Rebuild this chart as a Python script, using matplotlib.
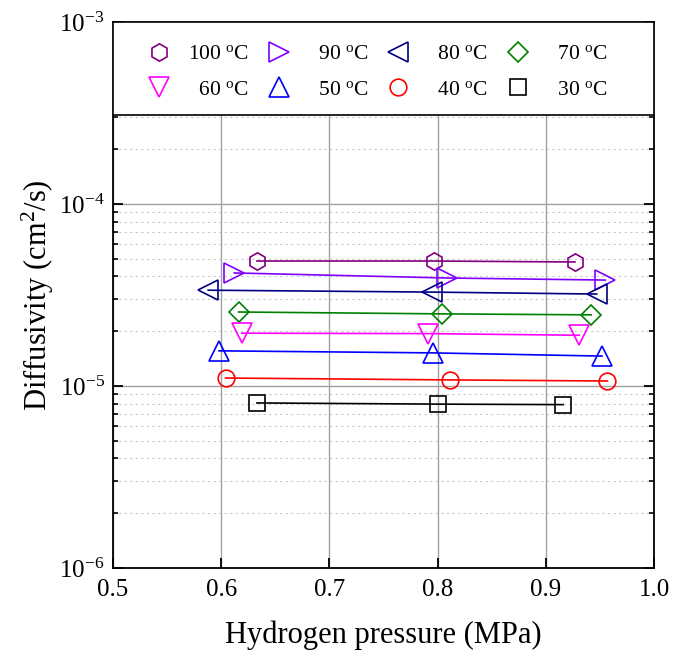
import numpy as np
import matplotlib
matplotlib.use("Agg")
import matplotlib.pyplot as plt
from matplotlib.lines import Line2D
from matplotlib.patches import Rectangle
from matplotlib.ticker import LogLocator, NullFormatter

plt.rcParams['font.family'] = ['Liberation Serif', 'DejaVu Serif']
plt.rcParams['mathtext.fontset'] = 'custom'
plt.rcParams['mathtext.rm'] = 'Liberation Serif'
plt.rcParams['mathtext.it'] = 'Liberation Serif:italic'

# diffusivity vs. pressure, one series per temperature
temps = [100, 90, 80, 70, 60, 50, 40, 30]
pressure = [
    [0.633, 0.797, 0.927],
    [0.612, 0.809, 0.955],
    [0.588, 0.795, 0.947],
    [0.616, 0.804, 0.942],
    [0.619, 0.791, 0.931],
    [0.598, 0.796, 0.952],
    [0.604, 0.811, 0.957],
    [0.633, 0.800, 0.916],
]
diffusivity = [
    [4.86e-5, 4.86e-5, 4.80e-5],
    [4.18e-5, 3.92e-5, 3.82e-5],
    [3.36e-5, 3.28e-5, 3.20e-5],
    [2.55e-5, 2.49e-5, 2.46e-5],
    [1.95e-5, 1.94e-5, 1.90e-5],
    [1.56e-5, 1.52e-5, 1.46e-5],
    [1.106e-5, 1.08e-5, 1.065e-5],
    [8.07e-6, 7.95e-6, 7.90e-6],
]

colors = ['#800080', '#8000ff', '#000080', '#008000',
          '#ff00ff', '#0000ff', '#ff0000', '#000000']
markers = ['h', '>', '<', 'D', 'v', '^', 'o', 's']
msizes = [12.5, 14, 14, 10.5, 14, 14, 12, 11]

fig = plt.figure(figsize=(6.78, 6.68), dpi=100)
ax = fig.add_axes([0.1667, 0.1497, 0.7979, 0.8174])

for t, x, y, c, m, ms in zip(temps, pressure, diffusivity, colors, markers, msizes):
    ax.plot(x, y, color=c, lw=1.2, marker=m, ms=ms, mfc='none', mec=c, mew=1.2,
            zorder=4)

ax.set_yscale('log')
ax.set_xlim(0.5, 1.0)
ax.set_ylim(1e-6, 1e-3)
ax.set_xticks([0.5, 0.6, 0.7, 0.8, 0.9, 1.0])
ax.set_xticklabels(['0.5', '0.6', '0.7', '0.8', '0.9', '1.0'])
ax.yaxis.set_major_locator(LogLocator(base=10, numticks=10))
ax.yaxis.set_minor_locator(LogLocator(base=10, subs=np.arange(2, 10), numticks=10))
ax.yaxis.set_minor_formatter(NullFormatter())

ax.grid(True, which='major', color='#a0a0a0', lw=1.0, ls='-')
ax.grid(True, which='minor', axis='y', color='#c8c8c8', lw=0.8, ls=(0, (2, 3)))
ax.set_axisbelow(True)

ax.tick_params(axis='both', which='major', direction='in', length=7, width=1.3,
               labelsize=18, pad=8)
ax.tick_params(axis='y', which='both', right=True)
ax.tick_params(axis='y', which='minor', direction='in', length=3.5, width=1.2)
ax.tick_params(axis='y', which='major', pad=6)
for s in ax.spines.values():
    s.set_linewidth(1.3)

ax.set_xlabel('Hydrogen pressure (MPa)', fontsize=22, labelpad=14)
ax.set_ylabel('Diffusivity (cm$^2$/s)', fontsize=22, labelpad=2)

# white band holding the legend along the top
ax.add_patch(Rectangle((0, 0.8297), 1, 0.1703, transform=ax.transAxes,
                       facecolor='white', edgecolor='black', lw=1.2, zorder=3))

handles = []
labels = []
for t, c, m, ms in zip(temps, colors, markers, msizes):
    handles.append(Line2D([], [], ls='none', marker=m, ms=ms, mfc='none',
                          mec=c, mew=1.2))
    lab = str(t) if t >= 100 else '\u2007' + str(t)
    labels.append(lab + r' $^{\rm o}$C')

# legend fills column by column, so interleave to read row by row
order = [0, 4, 1, 5, 2, 6, 3, 7]
leg = ax.legend([handles[i] for i in order], [labels[i] for i in order],
                ncol=4, loc='center', bbox_to_anchor=(0.488, 0.908),
                frameon=False, fontsize=15.5, handlelength=1.2,
                handletextpad=0.75, columnspacing=0.78, labelspacing=0.72)
leg.set_zorder(5)

fig.savefig('out.png', dpi=100)
